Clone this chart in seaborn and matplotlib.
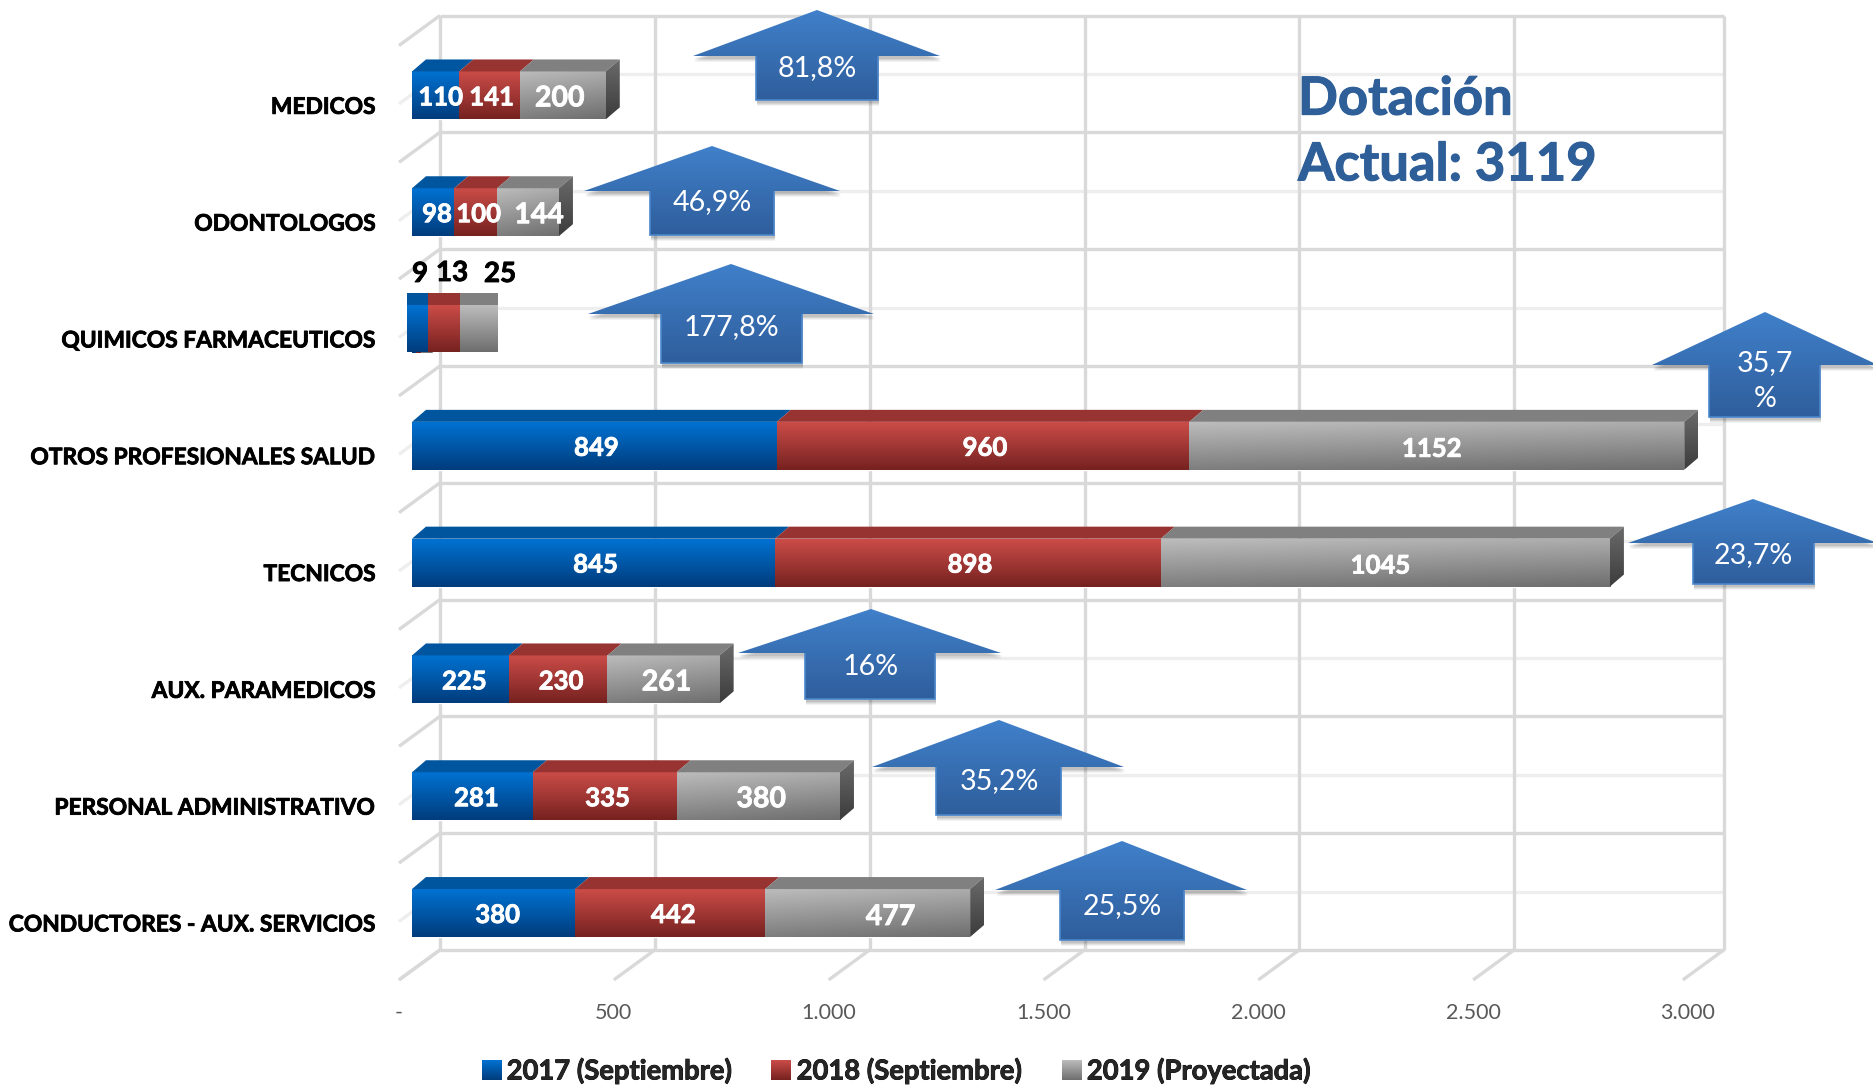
import numpy as np
import pandas as pd
import seaborn as sns
import matplotlib
matplotlib.use("Agg")
import matplotlib.pyplot as plt
import matplotlib.patheffects as pe
from matplotlib.patches import Patch, Polygon, Rectangle
from matplotlib.colors import to_rgb
from matplotlib.transforms import ScaledTranslation

# data
categorias = ["MEDICOS", "ODONTOLOGOS", "QUIMICOS FARMACEUTICOS", "OTROS PROFESIONALES SALUD",
              "TECNICOS", "AUX. PARAMEDICOS", "PERSONAL ADMINISTRATIVO", "CONDUCTORES - AUX. SERVICIOS"]
v2017 = [110, 98, 9, 849, 845, 225, 281, 380]
v2018 = [141, 100, 13, 960, 898, 230, 335, 442]
v2019 = [200, 144, 25, 1152, 1045, 261, 380, 477]
series = ["2017 (Septiembre)", "2018 (Septiembre)", "2019 (Proyectada)"]
xticks = [0, 500, 1000, 1500, 2000, 2500, 3000]
xlabels = ["-", "500", "1.000", "1.500", "2.000", "2.500", "3.000"]
flechas = ["81,8%", "46,9%", "177,8%", "35,7\n%", "23,7%", "16%", "35,2%", "25,5%"]
titulo = "Dotación\nActual: 3119"

W, H = 1873, 1087
sns.set_theme(style="white")
plt.rcParams["font.family"] = ["Lato", "DejaVu Sans"]

fig = plt.figure(figsize=(W / 100, H / 100), dpi=100, facecolor="white")
# bar plane in pixels: x=0 at 412, 3000 at 1701, row i centred at 95.4 + 116.8*i
ax = fig.add_axes([412 / W, 1 - 980 / H, (1701 - 412) / W, (980 - 45) / H])
ux = 3000 / (1701 - 412)   # data units per pixel, x
uy = 1 / 116.8             # data units per pixel, y

top_cols = [("#0072d2", "#003c7c"), ("#cb4c48", "#762220"), ("#bcbcbc", "#6e6e6e")]
lid_cols = ["#00559f", "#973432", "#808080"]
base_cols = ["#0060b0", "#a83a38", "#999999"]


def thick(color, w=0.6):
    return [pe.withStroke(linewidth=w, foreground=color)]


def grad(a, ext, c1, c2, z=3, clip=None, diag=False):
    t = np.linspace(0, 1, 64)[:, None]
    s = np.linspace(0, 1, 64)[None, :] if diag else np.zeros((1, 64))
    m = np.clip(t * (0.8 if diag else 1) + s * (0.2 if diag else 0), 0, 1)
    c1, c2 = np.array(to_rgb(c1)), np.array(to_rgb(c2))
    img = c1[None, None, :] * (1 - m[..., None]) + c2[None, None, :] * m[..., None]
    im = a.imshow(img, extent=ext, aspect="auto", origin="upper", zorder=z, interpolation="bilinear")
    if clip is not None:
        a.add_patch(clip)
        clip.set_visible(False)
        im.set_clip_path(clip)
    return im


df = pd.DataFrame({"cat": categorias, "a": v2017, "b": v2018, "c": v2019})
lefts = [np.zeros(8), df["a"].values.astype(float), (df["a"] + df["b"]).values.astype(float)]
for col, left, c in zip(["a", "b", "c"], lefts, base_cols):
    sns.barplot(data=df, x=col, y="cat", left=left, color=c, saturation=1, width=0.41,
                errorbar=None, ax=ax, zorder=2)

xlim = (0, 3000)
ylim = ((980 - 95.4) * uy, (45 - 95.4) * uy)
dep_x, dep_y = 14 * ux, 12 * uy

# gradients and 3d faces, taken from the bars seaborn drew
for k, cont in enumerate(ax.containers):
    for bar in cont:
        l, r = bar.get_x(), bar.get_x() + bar.get_width()
        y0, y1 = bar.get_y(), bar.get_y() + bar.get_height()
        grad(ax, (l, r, y1, y0), top_cols[k][0], top_cols[k][1], diag=(k == 2))
        ax.add_patch(Polygon([(l, y0), (l + dep_x, y0 - dep_y), (r + dep_x, y0 - dep_y), (r, y0)],
                             closed=True, fc=lid_cols[k], ec="none", zorder=3, clip_on=False))
        if k == 2:
            pts = [(r, y0), (r + dep_x, y0 - dep_y), (r + dep_x, y1 - dep_y), (r, y1)]
            grad(ax, (r, r + dep_x, y1, y0 - dep_y), "#6a6a6a", "#3c3c3c", clip=Polygon(pts, closed=True, transform=ax.transData))

# back wall, floor and side wall
gris, gris2 = "#d9d9d9", "#eeeeee"
back_x = 28 * ux
wall_end = 2988
fl_x, fl_y = -41 * ux, 30 * uy
wall_y = (15.5 - 95.4) * uy + np.arange(9)
wall_mid = wall_y[:-1] + 0.5
kw = dict(clip_on=False, solid_capstyle="butt")
for y in wall_mid:
    ax.plot([back_x, wall_end + back_x], [y, y], color=gris2, lw=2.4, zorder=1, **kw)
    ax.plot([back_x, back_x + fl_x], [y, y + fl_y], color=gris2, lw=2.4, zorder=1, **kw)
for y in wall_y:
    ax.plot([back_x, wall_end + back_x], [y, y], color=gris, lw=2.4, zorder=1, **kw)
    ax.plot([back_x, back_x + fl_x], [y, y + fl_y], color=gris, lw=2.4, zorder=1, **kw)
for v in xticks:
    v = min(v, wall_end)
    ax.plot([v + back_x, v + back_x], [wall_y[0], wall_y[-1]], color=gris, lw=2.4, zorder=1, **kw)
    ax.plot([v + back_x, v + back_x + fl_x], [wall_y[-1], wall_y[-1] + fl_y], color=gris, lw=2.4, zorder=1, **kw)

# value labels, small nudges in pixels per segment
etiquetas = [
    [(5, 2), (2, 2), (-3, 3)], [(4, 2), (3, 2), (11, 3)], None, [(2, 2), (2, 2), (-5, 3)],
    [(2, 2), (2, 2), (-5, 3)], [(4, 2), (3, 2), (3, 3)], [(4, 2), (3, 2), (3, 3)], [(4, 2), (3, 2), (23, 4)],
]
for k, cont in enumerate(ax.containers):
    for i, bar in enumerate(cont):
        if etiquetas[i] is None:
            continue
        off = etiquetas[i][k]
        ax.text(bar.get_x() + bar.get_width() / 2 + off[0] * ux, bar.get_y() + bar.get_height() / 2 + off[1] * uy,
                str(int(bar.get_width())), color="white", weight="bold", ha="center", va="center",
                fontsize=20.5 if (k == 2 and bar.get_width() < 1100 and i != 4) else 18.5, zorder=5,
                path_effects=thick("white"))

ax.set_xlim(xlim)
ax.set_ylim(ylim)
for s in ax.spines.values():
    s.set_visible(False)
ax.set_xlabel("")
ax.set_ylabel("")
ax.patch.set_alpha(0)
ax.set_xticks(xticks, xlabels)
ax.set_yticks(np.arange(8) + 0.085, categorias)
ax.tick_params(axis="x", length=0, pad=16.5, labelsize=15.5, labelcolor="#595959")
ax.tick_params(axis="y", length=0, pad=26, labelsize=16.4, labelcolor="black")
for t in ax.get_yticklabels():
    t.set_fontweight("bold")
    t.set_path_effects(thick("black"))
for t in ax.get_xticklabels():
    t.set_transform(t.get_transform() + ScaledTranslation(-13 / 100, 0, fig.dpi_scale_trans))

# overlay in pixels for the callouts
ov = fig.add_axes([0, 0, 1, 1], zorder=5)
ov.patch.set_alpha(0)
ov.axis("off")

# pasted block over the QUIMICOS row
block_x = [407, 428, 460, 498]
for k in range(3):
    grad(ov, (block_x[k], block_x[k + 1], 352, 305), top_cols[k][0], top_cols[k][1], z=2)
    ov.add_patch(Rectangle((block_x[k], 293), block_x[k + 1] - block_x[k], 12, fc=lid_cols[k], ec="none", zorder=2))
for txt, x, y in [("9", 420, 274), ("13", 452, 273), ("25", 500, 274)]:
    ov.text(x, y, txt, color="black", weight="bold", fontsize=20, ha="center", va="center", path_effects=thick("black"))

# tip x, tip y, base y, head left, head right, shaft left, shaft right, bottom y, text y
arrows = [
    (817, 10, 56, 693, 940, 756, 878, 100, 68),
    (712, 146, 191, 584, 840, 650, 774, 235, 202),
    (731, 264, 314, 588, 874, 661, 802, 363, 327),
    (1765, 312, 365, 1652, 1878, 1709, 1820, 417, 381),
    (1753, 499, 543, 1628, 1878, 1693, 1814, 584, 555),
    (871, 609, 653, 738, 1001, 805, 935, 699, 667),
    (999, 720, 767, 872, 1124, 936, 1061, 815, 781),
    (1122, 841, 890, 995, 1247, 1060, 1184, 940, 906),
]
for a, txt in zip(arrows, flechas):
    tx, ty, by, hl, hr, sl, sr, bot, ty_txt = a
    pts = [(tx, ty), (hr, by), (sr, by), (sr, bot), (sl, bot), (sl, by), (hl, by)]
    for d, al in [(6, 0.06), (5, 0.08), (4, 0.10), (3, 0.12)]:
        ov.add_patch(Polygon([(p[0] + 1, p[1] + d) for p in pts], closed=True, fc="#404040", ec="none", alpha=al, zorder=3))
    clip = Polygon(pts, closed=True, transform=ov.transData)
    grad(ov, (hl, hr, bot, ty), "#4080ca", "#2f5e9c", z=4, clip=clip)
    ov.add_patch(Polygon([(sr, by), (sr, bot), (sl, bot), (sl, by)], closed=False, fc="none", ec="#4a86cc", lw=1.2, zorder=4))
    ov.text(tx, ty_txt, txt, color="white", fontsize=20.6, ha="center", va="center", zorder=6, linespacing=1.45)

ov.text(1298, 132, titulo, color="#2f5f98", weight="bold", fontsize=37.8, ha="left", va="center", linespacing=1.42,
        path_effects=thick("#2f5f98", 0.8))

leg = ax.legend(handles=[Patch(fc=c[0], ec="none", label=s) for c, s in zip(top_cols, series)], ncol=3, frameon=False,
                loc="center", bbox_to_anchor=(896 / W, 1 - 1071 / H), bbox_transform=fig.transFigure,
                handlelength=0.72, handleheight=0.72, handletextpad=0.2, columnspacing=1.45,
                prop={"weight": "bold", "size": 19.7})
for t in leg.get_texts():
    t.set_path_effects(thick("black"))

ov.set_xlim(0, W)
ov.set_ylim(H, 0)
fig.canvas.draw()
for p, c in zip(leg.get_patches(), top_cols):
    bb = p.get_window_extent()
    grad(ov, (bb.x0, bb.x1, H - bb.y0, H - bb.y1), c[0], c[1], z=6)
ov.set_xlim(0, W)
ov.set_ylim(H, 0)

fig.savefig("out.png", dpi=100, facecolor="white")
